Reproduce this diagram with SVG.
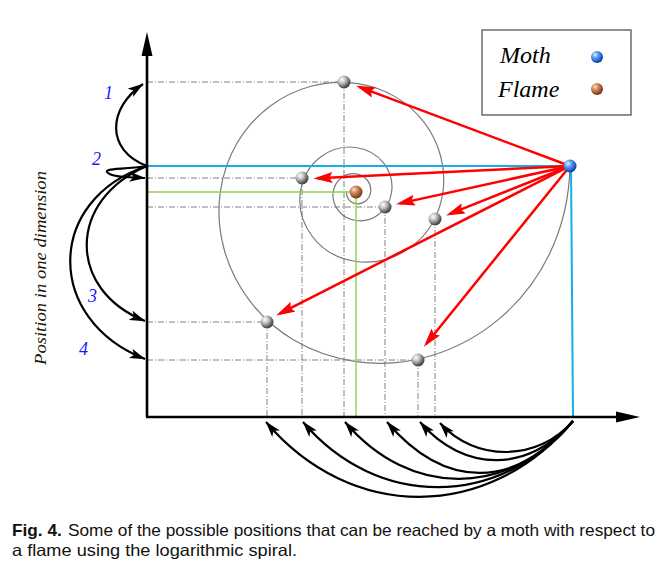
<svg xmlns="http://www.w3.org/2000/svg" width="664" height="566" viewBox="0 0 664 566">
<style>
.dd{stroke:#808080;stroke-width:1;fill:none;stroke-dasharray:6,2,1,2}
.sp{stroke:#7a7a7a;stroke-width:1.2;fill:none}
.red{stroke:#ff0000;stroke-width:2.5;fill:none;marker-end:url(#ra)}
.blk{stroke:#000;stroke-width:2.2;fill:none;marker-end:url(#ba)}
.num{font-family:"Liberation Serif",serif;font-style:italic;font-size:18px;fill:#1a1aff}
.leg{font-family:"Liberation Serif",serif;font-style:italic;font-size:24px;fill:#000}
.cap{font-family:"Liberation Sans",Arial,sans-serif;font-size:16.5px;fill:#111}
</style>
<defs>
<marker id="ra" markerUnits="userSpaceOnUse" markerWidth="19" markerHeight="11" viewBox="0 0 19 11" refX="15" refY="5.5" orient="auto">
<path d="M0,0 L19,5.5 L0,11 L3,5.5 z" fill="#ff0000"/>
</marker>
<marker id="ba" markerUnits="userSpaceOnUse" markerWidth="16" markerHeight="10" viewBox="0 0 16 10" refX="15.5" refY="5" orient="auto">
<path d="M0,0 L16,5 L0,10 L4,5 z" fill="#000"/>
</marker>
<radialGradient id="gGrey" cx="0.35" cy="0.32" r="0.75">
<stop offset="0" stop-color="#ffffff"/><stop offset="0.35" stop-color="#c4c4c4"/><stop offset="0.8" stop-color="#555"/><stop offset="1" stop-color="#2e2e2e"/>
</radialGradient>
<radialGradient id="gBlue" cx="0.35" cy="0.32" r="0.75">
<stop offset="0" stop-color="#e8f4ff"/><stop offset="0.35" stop-color="#5a9ef0"/><stop offset="0.8" stop-color="#1450c0"/><stop offset="1" stop-color="#0a2f80"/>
</radialGradient>
<radialGradient id="gBrown" cx="0.35" cy="0.32" r="0.75">
<stop offset="0" stop-color="#ffe2cc"/><stop offset="0.35" stop-color="#d08a5e"/><stop offset="0.8" stop-color="#8a4620"/><stop offset="1" stop-color="#5a2a10"/>
</radialGradient>
</defs>
<rect width="664" height="566" fill="#fff"/>

<g id="guides">
<path class="dd" d="M147,82 H344 M147,178 H302 M147,207 H385 M147,322 H267 M147,360 H418"/>
<path class="dd" d="M267,322 V417 M302,178 V417 M344,82 V417 M385,207 V417 M418,360 V417 M435,219 V417"/>
</g>

<g id="spiral">
<path class="sp" d="M570,166 C567.2,296.4 457.6,376.0 356,361.6 C262.3,348.3 209.7,267.0 220.3,192 C230.9,117.1 296.0,74.9 356,83.4 C416.0,91.9 449.7,144.0 442.9,192 C436.1,240.0 394.4,267.0 356,261.5 C317.6,256.1 296.0,222.7 300.4,192 C304.8,161.3 331.4,144.0 356,147.5 C380.6,151.0 394.4,172.3 391.6,192 C388.8,211.7 371.7,222.7 356,220.5 C340.3,218.3 331.4,204.6 333.2,192 C335.0,179.4 346.0,172.4 356,173.8 C366.1,175.2 371.7,183.9 370.6,192 C369.5,200.1 362.5,204.6 356,203.7 C349.5,202.8 346.0,197.1 346.7,192"/>
</g>

<g id="projections">
<path d="M147,166 H570 M571,166 L573,417" stroke="#19ade6" stroke-width="2" fill="none"/>
<path d="M147,192 H356 V417" stroke="#8fd24a" stroke-width="1.4" fill="none"/>
</g>

<g id="axes">
<path d="M147,417 V52 M146,417 H620" stroke="#000" stroke-width="2.6" fill="none"/>
<polygon points="147,32 152.5,56 141.5,56" fill="#000"/>
<polygon points="640,417 616,411.5 616,422.5" fill="#000"/>
<text class="num" x="104" y="99">1</text>
<text class="num" x="92" y="165">2</text>
<text class="num" x="88" y="302">3</text>
<text class="num" x="79" y="355">4</text>
<text x="0" y="0" transform="translate(46,268) rotate(-90)" text-anchor="middle" font-family="Liberation Serif, serif" font-style="italic" font-size="17" fill="#1a1206" textLength="194" lengthAdjust="spacingAndGlyphs">Position in one dimension</text>
</g>

<g id="connectors">
<path class="red" d="M570,166 L359.8,87.1"/>
<path class="red" d="M570,166 L317.5,178.3"/>
<path class="red" d="M570,166 L399.9,203.4"/>
<path class="red" d="M570,166 L449.8,213.9"/>
<path class="red" d="M570,166 L279.7,313.6"/>
<path class="red" d="M570,166 L426.4,343.7"/>
<path class="blk" d="M147,166 C105,150 108,108 143,84"/>
<path class="blk" d="M147,166 C120,170 102,168 108,173 C114,178 132,177 145,178"/>
<path class="blk" d="M147,166 C67,200 67,290 145,321"/>
<path class="blk" d="M147,166 C45,200 45,320 145,359"/>
<path class="blk" d="M573,421 C488,522 351,522 266,422"/>
<path class="blk" d="M573,421 C499,509 377,509 303,422"/>
<path class="blk" d="M573,421 C508,498 410,498 345,422"/>
<path class="blk" d="M573,421 C515,490 445,490 387,422"/>
<path class="blk" d="M573,421 C529,473 464,473 420,422"/>
<path class="blk" d="M573,421 C538,462 475,462 440,423"/>
</g>

<g id="posA"><circle cx="344" cy="82" r="6.5" fill="url(#gGrey)"/></g>
<g id="posB"><circle cx="302" cy="178" r="6.5" fill="url(#gGrey)"/></g>
<g id="posC"><circle cx="385" cy="207" r="6.5" fill="url(#gGrey)"/></g>
<g id="posD"><circle cx="435" cy="219" r="6.5" fill="url(#gGrey)"/></g>
<g id="posE"><circle cx="267" cy="322" r="6.5" fill="url(#gGrey)"/></g>
<g id="posF"><circle cx="418" cy="360" r="6.5" fill="url(#gGrey)"/></g>
<g id="flame"><circle cx="356" cy="192" r="6.5" fill="url(#gBrown)"/></g>
<g id="moth"><circle cx="570" cy="166" r="6.5" fill="url(#gBlue)"/></g>

<g id="legend">
<rect x="482" y="30" width="149" height="85" fill="#fff" stroke="#555" stroke-width="1.3"/>
<text class="leg" x="500" y="63">Moth</text>
<text class="leg" x="498" y="97">Flame</text>
<circle cx="597" cy="57" r="6" fill="url(#gBlue)"/>
<circle cx="597" cy="89" r="6" fill="url(#gBrown)"/>
</g>

<g id="caption">
<text class="cap" x="12" y="536" textLength="643" lengthAdjust="spacingAndGlyphs"><tspan font-weight="bold">Fig. 4.</tspan><tspan dx="6">Some of the possible positions that can be reached by a moth with respect to</tspan></text>
<text class="cap" x="12" y="556" textLength="285" lengthAdjust="spacingAndGlyphs">a flame using the logarithmic spiral.</text>
</g>
</svg>
